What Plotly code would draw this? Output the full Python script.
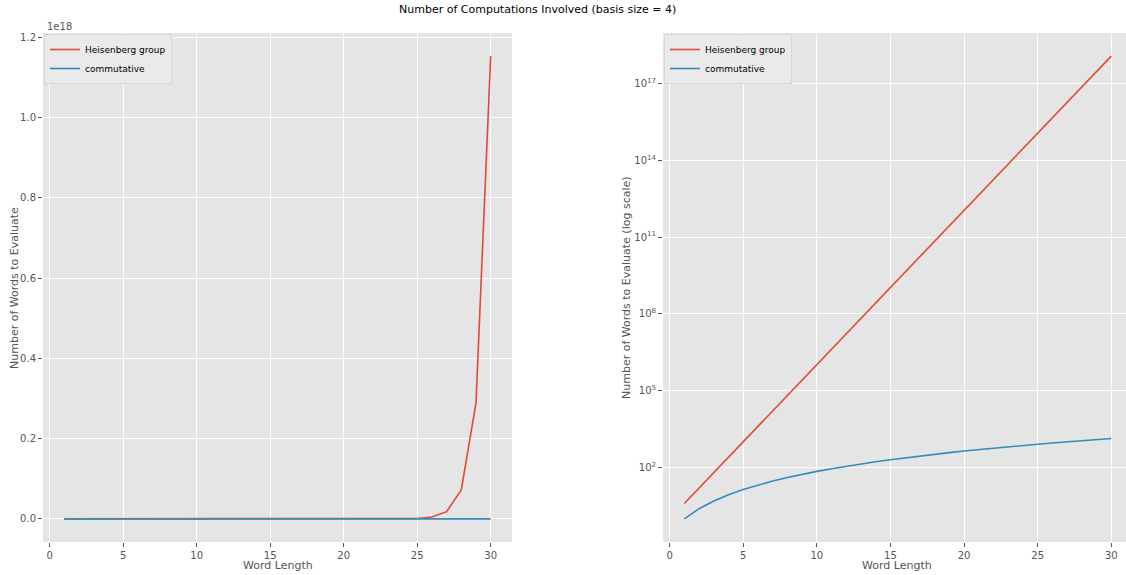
import plotly.graph_objects as go

W, H = 1126, 575

word_length = list(range(1, 31))
heisenberg = [4, 16, 64, 256, 1024, 4096, 16384, 65536, 262144, 1048576,
              4194304, 16777216, 67108864, 268435456, 1073741824, 4294967296,
              17179869184, 68719476736, 274877906944, 1099511627776,
              4398046511104, 17592186044416, 70368744177664, 281474976710656,
              1125899906842624, 4503599627370496, 18014398509481984,
              72057594037927936, 288230376151711744, 1152921504606846976]
commutative = [1, 2.5, 5, 8.75, 14, 21, 30, 41.25, 55, 71.5, 91, 113.75, 140,
               170, 204, 242, 285, 332.5, 385, 442.75, 506, 575, 650, 731, 819,
               913.5, 1015, 1123.5, 1240, 1364]

lin_tickvals = [0, 0.2e18, 0.4e18, 0.6e18, 0.8e18, 1.0e18, 1.2e18]
lin_ticktext = ["0.0", "0.2", "0.4", "0.6", "0.8", "1.0", "1.2"]
log_tickvals = [1e2, 1e5, 1e8, 1e11, 1e14, 1e17]
log_ticktext = ["10<sup>2</sup>", "10<sup>5</sup>", "10<sup>8</sup>",
                "10<sup>11</sup>", "10<sup>14</sup>", "10<sup>17</sup>"]
x_ticks = [0, 5, 10, 15, 20, 25, 30]

RED = "#E24A33"
BLUE = "#348ABD"
BG = "#E5E5E5"
TXT = "#555555"
FONT = "DejaVu Sans"

def px(x):
    return x / W

def py(y):
    return 1 - y / H

fig = go.Figure()
fig.add_trace(go.Scatter(x=word_length, y=heisenberg, mode="lines", name="Heisenberg group",
                         line=dict(color=RED, width=1.6), xaxis="x", yaxis="y", legend="legend"))
fig.add_trace(go.Scatter(x=word_length, y=commutative, mode="lines", name="commutative",
                         line=dict(color=BLUE, width=1.6), xaxis="x", yaxis="y", legend="legend"))
fig.add_trace(go.Scatter(x=word_length, y=heisenberg, mode="lines", name="Heisenberg group",
                         line=dict(color=RED, width=1.6), xaxis="x2", yaxis="y2", legend="legend2"))
fig.add_trace(go.Scatter(x=word_length, y=commutative, mode="lines", name="commutative",
                         line=dict(color=BLUE, width=1.6), xaxis="x2", yaxis="y2", legend="legend2"))

ax_common = dict(showgrid=True, gridcolor="white", gridwidth=1, zeroline=False,
                 showline=False, ticks="outside", ticklen=4, tickcolor=TXT,
                 tickfont=dict(family=FONT, size=10, color=TXT))

legend_common = dict(xanchor="left", yanchor="top",
                     bgcolor="rgba(234,234,234,0.9)", bordercolor="#d8d8d8", borderwidth=1,
                     font=dict(family=FONT, size=9, color="black"), tracegroupgap=0,
                     itemwidth=30)

ydom = [py(542), py(33)]
fig.update_layout(
    width=W, height=H,
    margin=dict(l=0, r=0, t=0, b=0),
    paper_bgcolor="white",
    plot_bgcolor=BG,
    font=dict(family=FONT, color=TXT),
    xaxis=dict(domain=[px(43), px(512)], range=[-0.45, 31.45], tickvals=x_ticks,
               anchor="y", **ax_common),
    yaxis=dict(domain=ydom, range=[-0.0576e18, 1.2106e18], tickvals=lin_tickvals,
               ticktext=lin_ticktext, anchor="x", **ax_common),
    xaxis2=dict(domain=[px(663), 1.0], range=[-0.45, 31.0], tickvals=x_ticks,
                anchor="y2", **ax_common),
    yaxis2=dict(domain=ydom, type="log", range=[-0.903, 18.965], tickvals=log_tickvals,
                ticktext=log_ticktext, anchor="x2", **ax_common),
    legend=dict(x=px(44), y=py(34), **legend_common),
    legend2=dict(x=px(664), y=py(34), **legend_common),
    showlegend=True,
)

annotations = [
    dict(text="Number of Computations Involved (basis size = 4)", x=px(537), y=py(9),
         xanchor="center", yanchor="middle", showarrow=False,
         font=dict(family=FONT, size=11, color="black")),
    dict(text="1e18", x=px(45), y=py(26), xanchor="left", yanchor="middle", showarrow=False,
         font=dict(family=FONT, size=10, color=TXT)),
    dict(text="Word Length", x=px(278), y=py(565), xanchor="center", yanchor="middle",
         showarrow=False, font=dict(family=FONT, size=11, color=TXT)),
    dict(text="Word Length", x=px(897), y=py(565), xanchor="center", yanchor="middle",
         showarrow=False, font=dict(family=FONT, size=11, color=TXT)),
    dict(text="Number of Words to Evaluate", x=px(14), y=py(288), xanchor="center",
         yanchor="middle", textangle=-90, showarrow=False,
         font=dict(family=FONT, size=11, color=TXT)),
    dict(text="Number of Words to Evaluate (log scale)", x=px(626), y=py(288),
         xanchor="center", yanchor="middle", textangle=-90, showarrow=False,
         font=dict(family=FONT, size=11, color=TXT)),
]
for a in annotations:
    a["xref"] = "paper"
    a["yref"] = "paper"
fig.update_layout(annotations=annotations)

fig.write_html("out.html")
